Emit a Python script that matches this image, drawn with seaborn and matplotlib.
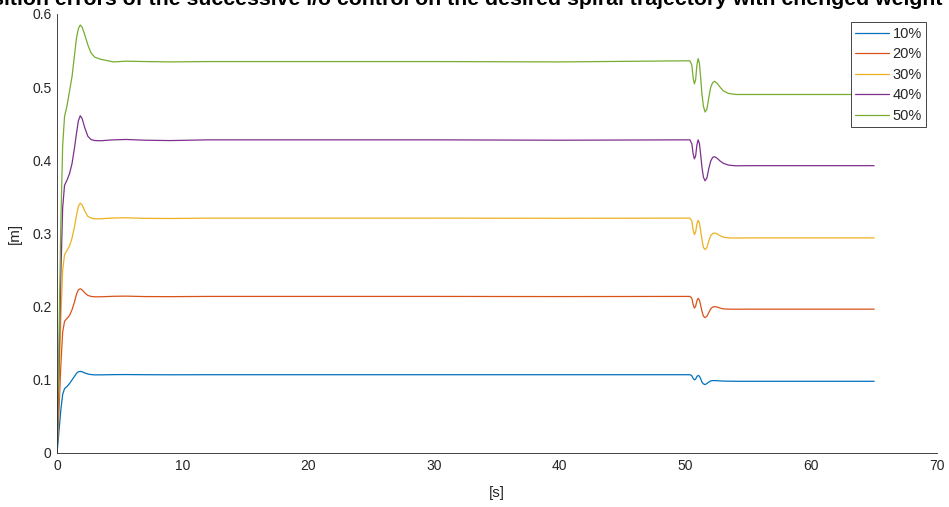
import matplotlib
matplotlib.use("Agg")
import matplotlib.pyplot as plt
import seaborn as sns
import pandas as pd

# time axis [s] and position error per weight change [m]
time = [0, 0.15, 0.3, 0.45, 0.6, 0.8, 1.0, 1.2, 1.4, 1.55,
        1.7, 1.85, 2.0, 2.2, 2.45, 2.7, 3.0, 3.5, 4.5, 5.5,
        7, 9, 12, 20, 30, 40, 50, 50.35, 50.5, 50.6,
        50.7, 50.8, 50.9, 51.0, 51.1, 51.2, 51.3, 51.42, 51.55, 51.7,
        51.85, 52.0, 52.15, 52.3, 52.5, 52.75, 53.0, 53.4, 54, 55, 65]

err_10 = [0, 0.028, 0.058, 0.080, 0.088, 0.091, 0.095, 0.100, 0.105, 0.109,
          0.111, 0.1115, 0.111, 0.1095, 0.108, 0.1072, 0.1068, 0.1068, 0.1071, 0.1072,
          0.107, 0.1069, 0.107, 0.107, 0.107, 0.107, 0.107, 0.107, 0.1055, 0.102,
          0.100, 0.101, 0.1045, 0.106, 0.105, 0.1015, 0.097, 0.0945, 0.0935, 0.095,
          0.097, 0.0985, 0.099, 0.099, 0.0988, 0.0985, 0.0983, 0.0982, 0.098, 0.098, 0.098]

err_20 = [0, 0.055, 0.118, 0.165, 0.180, 0.184, 0.188, 0.196, 0.207, 0.217,
          0.223, 0.2245, 0.223, 0.219, 0.2155, 0.214, 0.2135, 0.2135, 0.2142, 0.2144,
          0.2138, 0.2137, 0.214, 0.214, 0.214, 0.2138, 0.214, 0.214, 0.2115, 0.203,
          0.198, 0.2005, 0.208, 0.2115, 0.209, 0.202, 0.194, 0.187, 0.185, 0.187,
          0.192, 0.197, 0.1995, 0.200, 0.1995, 0.198, 0.197, 0.1966, 0.1965, 0.1966, 0.1966]

err_30 = [0, 0.085, 0.18, 0.25, 0.271, 0.277, 0.283, 0.294, 0.310, 0.325,
          0.337, 0.3415, 0.339, 0.331, 0.3235, 0.3212, 0.320, 0.3202, 0.3212, 0.3215,
          0.3207, 0.3205, 0.321, 0.321, 0.321, 0.3208, 0.321, 0.321, 0.317, 0.305,
          0.2985, 0.302, 0.313, 0.318, 0.3145, 0.304, 0.292, 0.281, 0.278, 0.281,
          0.290, 0.297, 0.300, 0.3007, 0.2995, 0.297, 0.295, 0.294, 0.2938, 0.294, 0.294]

err_40 = [0, 0.11, 0.24, 0.335, 0.366, 0.373, 0.382, 0.396, 0.418, 0.437,
          0.454, 0.461, 0.457, 0.445, 0.433, 0.4285, 0.427, 0.4268, 0.428, 0.4285,
          0.4275, 0.427, 0.428, 0.428, 0.428, 0.4275, 0.428, 0.428, 0.4225, 0.409,
          0.402, 0.406, 0.421, 0.428, 0.423, 0.408, 0.391, 0.377, 0.372, 0.376,
          0.389, 0.399, 0.404, 0.405, 0.403, 0.399, 0.396, 0.3935, 0.3925, 0.3927, 0.3927]

err_50 = [0, 0.15, 0.31, 0.42, 0.46, 0.475, 0.495, 0.515, 0.545, 0.567,
          0.580, 0.585, 0.582, 0.572, 0.558, 0.547, 0.541, 0.538, 0.5345, 0.5355,
          0.535, 0.5345, 0.535, 0.535, 0.535, 0.5345, 0.536, 0.536, 0.530, 0.513,
          0.5045, 0.510, 0.530, 0.539, 0.533, 0.513, 0.491, 0.474, 0.466, 0.470,
          0.486, 0.500, 0.506, 0.508, 0.5055, 0.500, 0.495, 0.4915, 0.490, 0.490, 0.490]

labels = ["10%", "20%", "30%", "40%", "50%"]
colors = ["#0072BD", "#D95319", "#EDB120", "#7E2F8E", "#77AC30"]

frames = []
for lab, vals in zip(labels, [err_10, err_20, err_30, err_40, err_50]):
    frames.append(pd.DataFrame({"t": time, "err": vals, "series": lab}))
df = pd.concat(frames, ignore_index=True)

sns.set_theme(style="white")
plt.rcParams["font.family"] = ["Liberation Sans", "DejaVu Sans"]
axc = "#262626"

fig = plt.figure(figsize=(9.49, 5.07), dpi=100)
ax = fig.add_axes([57 / 949, 54 / 507, 880 / 949, 439 / 507])

sns.lineplot(data=df, x="t", y="err", hue="series", palette=colors,
             linewidth=0.9, estimator=None, sort=False, ax=ax)

ax.set_xlim(0, 70)
ax.set_ylim(0, 0.6)
ax.set_xticks(range(0, 71, 10))
ax.set_yticks([0, 0.1, 0.2, 0.3, 0.4, 0.5, 0.6])
ax.set_yticklabels(["0", "0.1", "0.2", "0.3", "0.4", "0.5", "0.6"])
ax.tick_params(direction="in", length=6.3, width=0.6, color=axc,
               labelsize=10, labelcolor=axc, pad=4)
for side in ["top", "right"]:
    ax.spines[side].set_visible(False)
for side in ["left", "bottom"]:
    ax.spines[side].set_color(axc)
    ax.spines[side].set_linewidth(0.6)

ax.set_xlabel("[s]", fontsize=11, color=axc, labelpad=10)
ax.set_ylabel("[m]", fontsize=11, color=axc, labelpad=7)
# the title is wider than the figure in the reference and gets clipped there too
ax.set_title("Position errors of the successive i/o control on the desired spiral "
             "trajectory with chenged weight at t=50s",
             fontsize=15.3, fontweight="bold", color="black", pad=6.5)

leg = ax.legend(loc="upper right", bbox_to_anchor=(0.9875, 0.981), borderaxespad=0,
                fontsize=10.5, frameon=True, fancybox=False, framealpha=1,
                edgecolor=axc, borderpad=0.3, handlelength=2.3,
                handletextpad=0.25, labelspacing=0.45, title=None)
leg.get_frame().set_linewidth(0.6)
for line in leg.get_lines():
    line.set_linewidth(0.9)

fig.savefig("out.png", dpi=100)
